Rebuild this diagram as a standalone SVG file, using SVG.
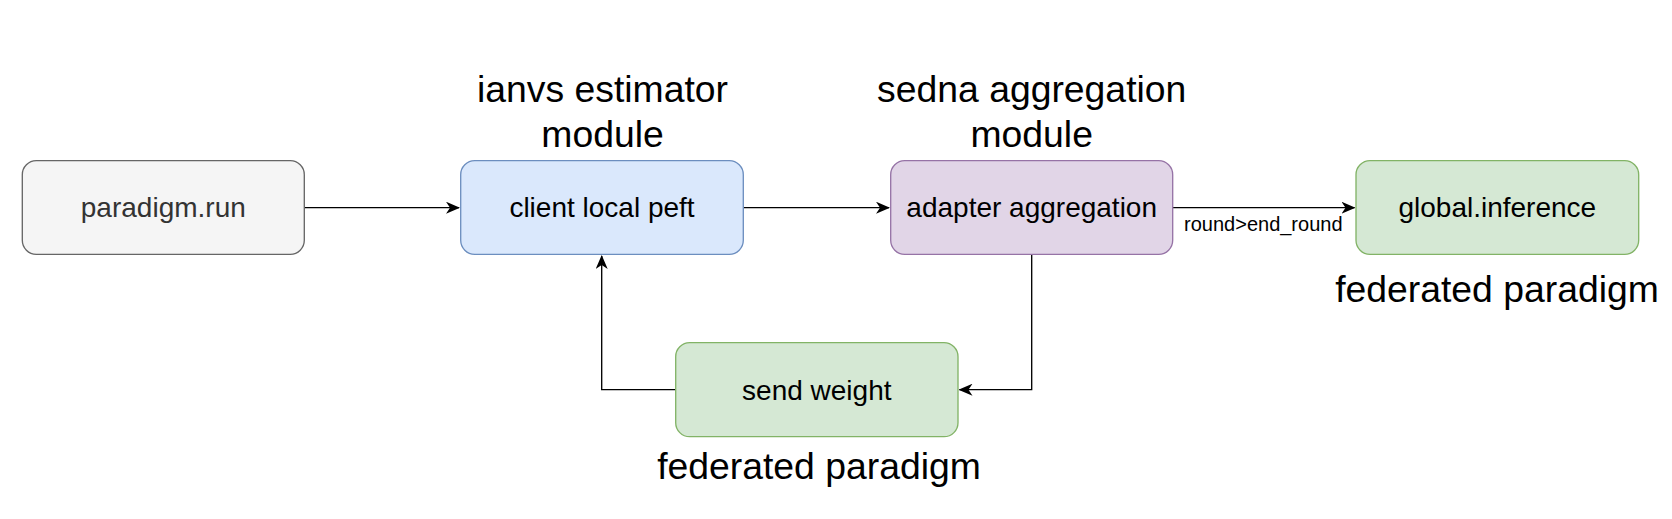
<svg xmlns="http://www.w3.org/2000/svg" width="1672" height="519" viewBox="0 0 1672 519">
<style>
.box{stroke-width:1.33}
.gray{fill:#f5f5f5;stroke:#666666}
.blue{fill:#dae8fc;stroke:#6c8ebf}
.purple{fill:#e1d5e7;stroke:#9673a6}
.green{fill:#d5e8d4;stroke:#82b366}
.t{font-family:"Liberation Sans",Arial,sans-serif;font-size:28px;text-anchor:middle;fill:#000}
.big{font-family:"Liberation Sans",Arial,sans-serif;font-size:37.33px;text-anchor:middle;fill:#000}
.small{font-family:"Liberation Sans",Arial,sans-serif;font-size:20px;text-anchor:middle;fill:#000}
.edge{fill:none;stroke:#000;stroke-width:1.33}
</style>
<defs>
<marker id="arrow" markerUnits="userSpaceOnUse" markerWidth="14" markerHeight="12" viewBox="0 0 14 12" refX="13" refY="6" orient="auto">
<path d="M0,0 L14,6 L0,12 L4,6 Z" fill="#000"/>
</marker>
</defs>
<rect width="1672" height="519" fill="#ffffff"/>
<g id="connectors">
<path class="edge" d="M304.3,207.7 L459,207.7" marker-end="url(#arrow)"/>
<path class="edge" d="M743.3,207.7 L889,207.7" marker-end="url(#arrow)"/>
<path class="edge" d="M1172.7,207.7 L1354.5,207.7" marker-end="url(#arrow)"/>
<path class="edge" d="M1031.7,254.3 L1031.7,389.7 L959.5,389.7" marker-end="url(#arrow)"/>
<path class="edge" d="M676,389.7 L601.7,389.7 L601.7,256" marker-end="url(#arrow)"/>
<text class="small" x="1263.3" y="231">round&gt;end_round</text>
</g>
<g id="paradigm-run">
<rect class="box gray" x="22.3" y="160.7" width="282" height="93.6" rx="14" ry="14"/>
<text class="t" x="163.3" y="217.3" style="fill:#333333">paradigm.run</text>
</g>
<g id="client-local-peft">
<rect class="box blue" x="460.7" y="160.7" width="282.6" height="93.6" rx="14" ry="14"/>
<text class="t" x="602" y="217.3">client local peft</text>
</g>
<g id="ianvs-label">
<text class="big" x="602.5" y="101.7">ianvs estimator</text>
<text class="big" x="602.5" y="147.3">module</text>
</g>
<g id="adapter-aggregation">
<rect class="box purple" x="890.7" y="160.7" width="282" height="93.6" rx="14" ry="14"/>
<text class="t" x="1031.7" y="217.3">adapter aggregation</text>
</g>
<g id="sedna-label">
<text class="big" x="1031.7" y="101.7">sedna aggregation</text>
<text class="big" x="1031.7" y="147.3">module</text>
</g>
<g id="global-inference">
<rect class="box green" x="1356" y="160.7" width="282.7" height="93.6" rx="14" ry="14"/>
<text class="t" x="1497.3" y="217.3">global.inference</text>
</g>
<g id="federated-label-right">
<text class="big" x="1497" y="301.7">federated paradigm</text>
</g>
<g id="send-weight">
<rect class="box green" x="675.7" y="342.7" width="282.3" height="94" rx="14" ry="14"/>
<text class="t" x="816.8" y="399.5">send weight</text>
</g>
<g id="federated-label-bottom">
<text class="big" x="819" y="479.3">federated paradigm</text>
</g>
</svg>
